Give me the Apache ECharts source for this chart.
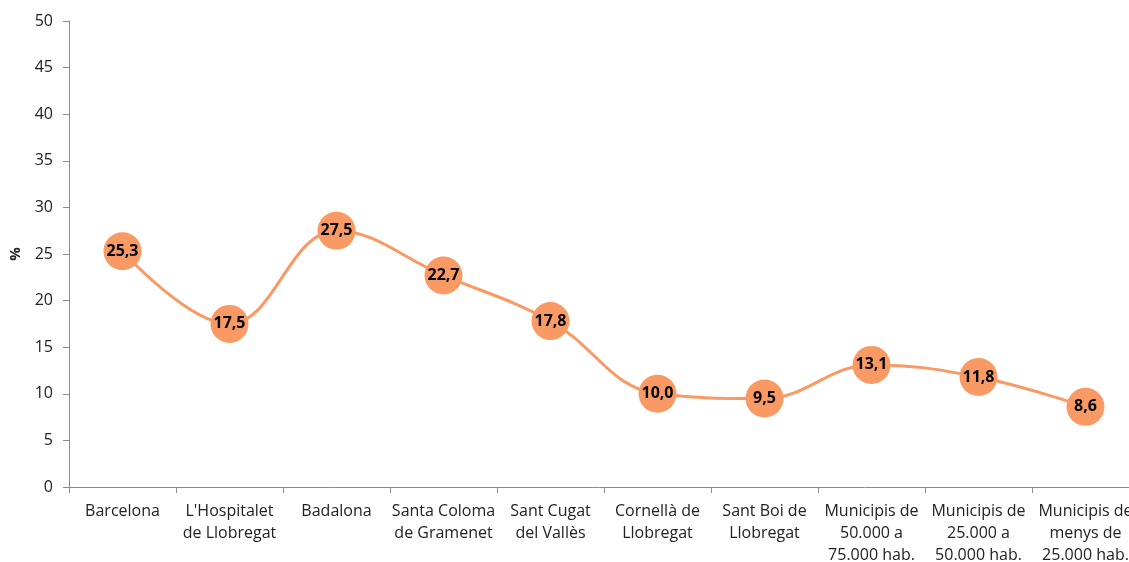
<!DOCTYPE html>
<html>
<head>
<meta charset="utf-8">
<script src="https://cdn.jsdelivr.net/npm/echarts@6/dist/echarts.min.js"></script>
<style>
  html, body { margin: 0; padding: 0; background: #fff; }
  #chart { width: 1129px; height: 562px; }
</style>
</head>
<body>
<div id="chart"></div>
<script>
const categories = [
  'Barcelona',
  "L'Hospitalet\nde Llobregat",
  'Badalona',
  'Santa Coloma\nde Gramenet',
  'Sant Cugat\ndel Vallès',
  'Cornellà de\nLlobregat',
  'Sant Boi de\nLlobregat',
  'Municipis de\n50.000 a\n75.000 hab.',
  'Municipis de\n25.000 a\n50.000 hab.',
  'Municipis de\nmenys de\n25.000 hab.'
]
const values = [25.3, 17.5, 27.5, 22.7, 17.8, 10.0, 9.5, 13.1, 11.8, 8.6]

const font = 'Open Sans, Liberation Sans, sans-serif'
const axisColor = '#8c8c8c'
const orange = '#F99A64'

const chart = echarts.init(document.getElementById('chart'))
chart.setOption({
  animation: false,
  textStyle: { fontFamily: font },
  grid: {
    left: 69,
    width: 1070,
    top: 21,
    bottom: 75,
    containLabel: false,
    outerBoundsMode: 'none'
  },
  xAxis: {
    type: 'category',
    data: categories,
    axisLine: { lineStyle: { color: axisColor } },
    axisTick: { show: true, length: 6, lineStyle: { color: axisColor } },
    axisLabel: {
      interval: 0,
      color: '#222',
      fontSize: 16,
      lineHeight: 22,
      margin: 13,
      fontFamily: font
    }
  },
  yAxis: {
    type: 'value',
    min: 0,
    max: 50,
    interval: 5,
    name: '%',
    nameLocation: 'middle',
    nameGap: 46,
    nameRotate: 90,
    nameTextStyle: { fontWeight: 'bold', fontSize: 15, color: '#222' },
    axisLine: { show: true, lineStyle: { color: axisColor } },
    axisTick: { show: true, length: 6, lineStyle: { color: axisColor } },
    splitLine: { show: false },
    axisLabel: { color: '#222', fontSize: 16, margin: 16, fontFamily: font }
  },
  series: [{
    type: 'line',
    data: values,
    smooth: 0.4,
    symbol: 'circle',
    symbolSize: 38,
    lineStyle: { color: orange, width: 3 },
    itemStyle: { color: orange },
    label: {
      show: true,
      position: 'inside',
      color: '#000',
      fontWeight: 'bold',
      fontSize: 16,
      formatter: p => p.value.toFixed(1).replace('.', ',')
    }
  }]
})
</script>
</body>
</html>
